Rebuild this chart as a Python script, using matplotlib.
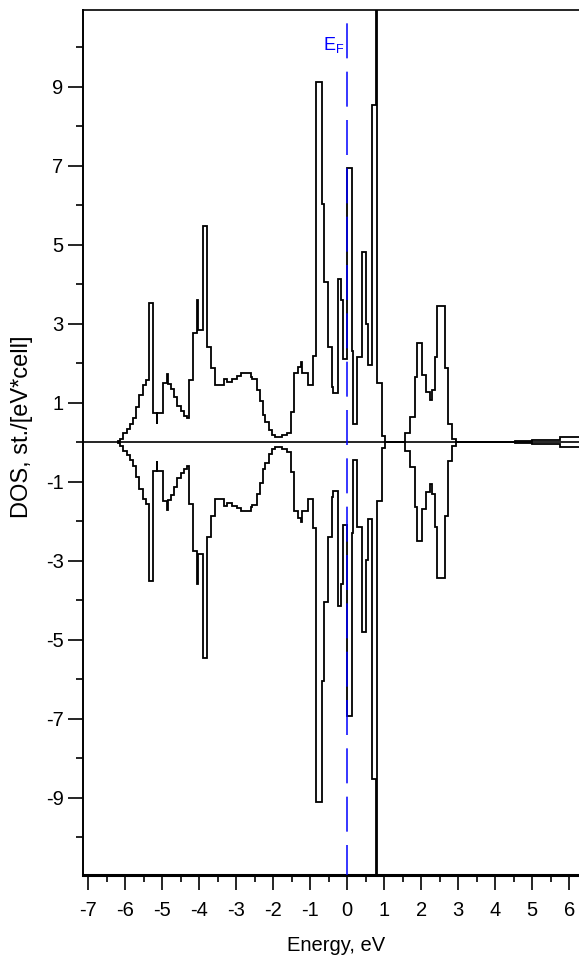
import numpy as np
import matplotlib
matplotlib.use("Agg")
import matplotlib.pyplot as plt
from matplotlib.ticker import MultipleLocator

plt.rcParams['font.family'] = ['Liberation Sans', 'DejaVu Sans']
plt.rcParams['axes.unicode_minus'] = False
plt.rcParams['lines.scale_dashes'] = False

# ===== data =====
# bin edges (eV) of the step-like DOS
edges = [-6.20, -6.14, -6.05, -5.96, -5.87, -5.80, -5.71, -5.62, -5.51, -5.44,
         -5.35, -5.24, -5.15, -5.13, -4.97, -4.88, -4.85, -4.76, -4.68, -4.59,
         -4.50, -4.41, -4.34, -4.27, -4.16, -4.05, -4.03, -3.90, -3.79, -3.69,
         -3.57, -3.34, -3.25, -3.11, -2.98, -2.86, -2.61, -2.58, -2.44, -2.35,
         -2.28, -2.21, -2.12, -2.03, -1.94, -1.75, -1.63, -1.52, -1.45, -1.33,
         -1.24, -1.21, -1.06, -0.93, -0.83, -0.69, -0.63, -0.51, -0.42, -0.38,
         -0.26, -0.17, -0.11, 0.00, 0.12, 0.16, 0.27, 0.39, 0.51, 0.55,
         0.66, 0.775, 0.815, 0.93, 1.02, 1.57, 1.69, 1.83, 1.89, 2.01,
         2.12, 2.24, 2.28, 2.37, 2.43, 2.64, 2.73, 2.82, 2.94, 4.53,
         5.00, 5.75, 6.60]

# spin-up DOS in each bin, st./[eV*cell] (spin-down is the mirror image)
dos_up = [0.03, 0.09, 0.22, 0.32, 0.46, 0.60, 0.89, 1.19, 1.44, 1.57,
          3.51, 0.74, 0.47, 0.74, 1.49, 1.72, 1.46, 1.34, 1.13, 0.92,
          0.79, 0.67, 0.60, 1.57, 2.75, 3.60, 2.84, 5.47, 2.41, 1.87,
          1.44, 1.61, 1.53, 1.61, 1.67, 1.74, 1.65, 1.60, 1.32, 1.03,
          0.69, 0.52, 0.30, 0.17, 0.13, 0.17, 0.24, 0.76, 1.74, 1.91,
          2.03, 1.74, 1.44, 2.17, 9.12, 6.04, 4.06, 2.41, 1.40, 1.25,
          4.14, 3.60, 2.10, 6.93, 2.30, 0.45, 2.16, 4.82, 2.98, 1.95,
          8.54, 40.0, 1.49, 0.16, 0.00, 0.22, 0.64, 1.65, 2.50, 1.70,
          1.27, 1.06, 1.32, 2.16, 3.44, 1.87, 0.47, 0.09, 0.00, 0.03,
          0.06, 0.12]

e_fermi = 0.0
x_ticks = list(range(-7, 7))
y_ticks = [-9, -7, -5, -3, -1, 1, 3, 5, 7, 9]

# ===== plotting =====
W, H = 579, 972
fig = plt.figure(figsize=(W / 100, H / 100), dpi=100)

xlim = (-7.14, 6.60)
ylim = (-10.96, 10.94)
ax_left, ax_right = 83, 347.3 + 6.60 * 36.98
ax_top, ax_bot = 10, 875
ax = fig.add_axes([ax_left / W, 1 - ax_bot / H, (ax_right - ax_left) / W, (ax_bot - ax_top) / H])

up = np.array(dos_up)
ax.stairs(up, edges, color="black", lw=1.3, zorder=2)
ax.stairs(-up, edges, color="black", lw=1.3, zorder=2)
ax.axhline(0, color="black", lw=1.2, zorder=1)

ax.plot([e_fermi, e_fermi], [ylim[1], ylim[0]], color="#0000ff", lw=1.1,
        linestyle=(25.2, (25.2, 9.6)), zorder=3)
ax.text(e_fermi - 0.08, 9.92, r"E$_\mathregular{F}$", color="#0000ff",
        fontsize=13, ha="right", va="baseline")

ax.set_xlim(*xlim)
ax.set_ylim(*ylim)
ax.set_xticks(x_ticks)
ax.set_yticks(y_ticks)
ax.xaxis.set_minor_locator(MultipleLocator(0.5))
ax.yaxis.set_minor_locator(MultipleLocator(2))

ax.tick_params(which="major", direction="out", length=10.5, width=1.2, labelsize=14.5)
ax.tick_params(which="minor", direction="out", length=5, width=1.2)
ax.tick_params(axis="x", which="major", pad=8)
ax.tick_params(axis="y", which="major", pad=3.5)

ax.spines["right"].set_visible(False)
ax.spines["top"].set_linewidth(1.2)
ax.spines["left"].set_linewidth(1.4)
ax.spines["bottom"].set_linewidth(2.2)

ax.set_xlabel("Energy, eV", fontsize=14.5)
ax.set_ylabel("DOS, st./[eV*cell]", fontsize=17)
ax.xaxis.set_label_coords(0.4975, -0.082)
ax.xaxis.label.set_va("center")
ax.yaxis.set_label_coords(-0.12, 0.518)
ax.yaxis.label.set_va("center")

fig.savefig("out.png", dpi=100)
plt.close(fig)
